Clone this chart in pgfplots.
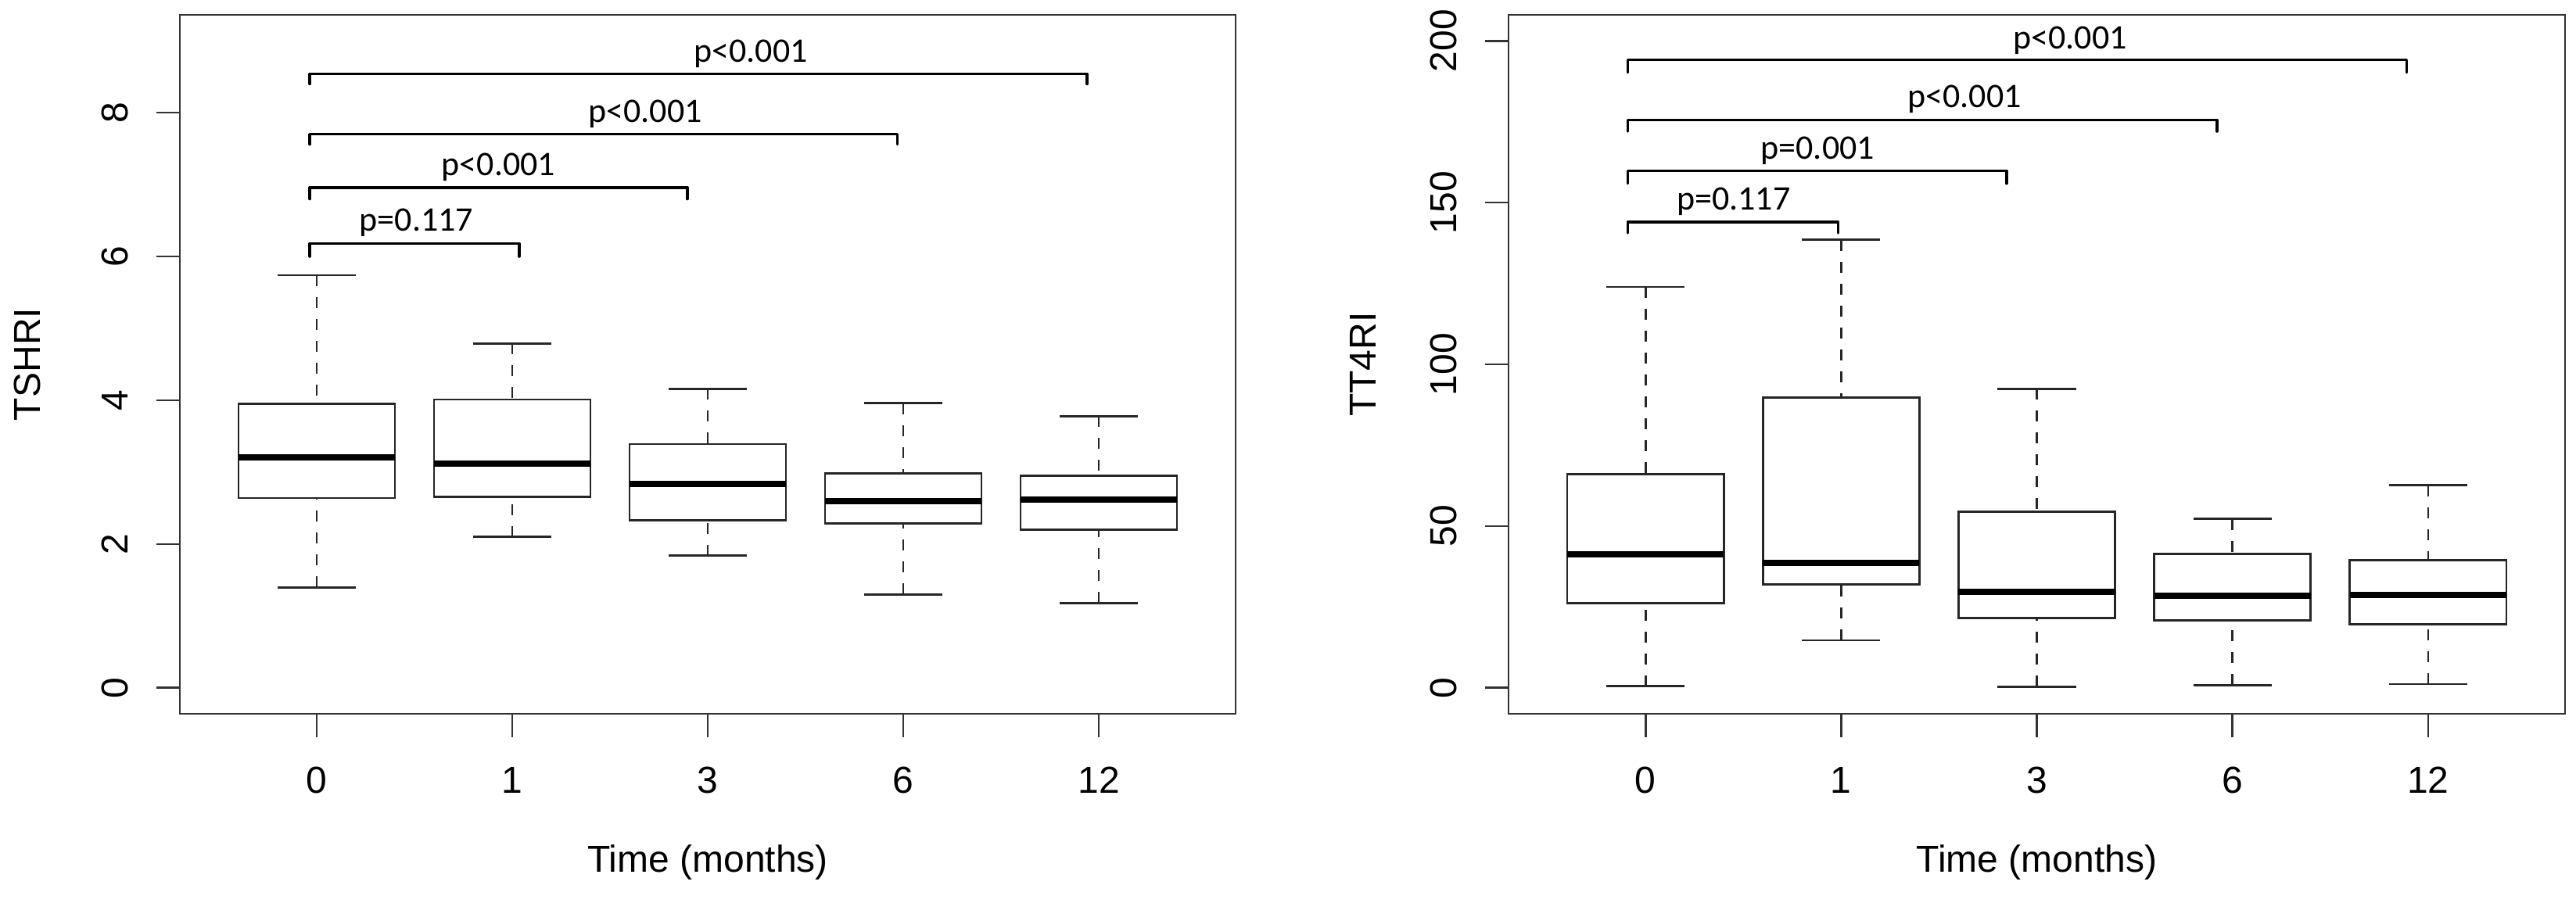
\documentclass[border=0pt]{standalone}
\usepackage{fontspec}
\setmainfont{Liberation Sans}
\newfontfamily\pfont{Carlito}
\usepackage{pgfplots}
\pgfplotsset{compat=1.18}
\usepgfplotslibrary{statistics}

\newcommand\rfont{\fontsize{12}{14}\selectfont}
\newcommand\plab{\pfont\fontsize{11}{13}\selectfont}

\pgfplotsset{
  rpanel/.style={
    anchor=south west, scale only axis,
    height=223.5pt,
    xmin=-0.7, xmax=4.7,
    xtick={0,1,2,3,4}, xticklabels={0,1,3,6,12},
    xtick pos=left, ytick pos=left,
    tick align=outside, major tick length=7.4pt,
    axis line style={black!80, line width=0.7pt},
    tick style={black!80, line width=0.7pt},
    /pgf/number format/assume math mode=true,
    tick label style={font=\rfont},
    yticklabel style={anchor=center, xshift=-13.4pt, rotate=90},
    xticklabel style={anchor=center, yshift=-13.9pt},
    label style={font=\rfont},
    xlabel={Time (months)},
    xlabel style={at={(axis description cs:0.5,0)}, anchor=center, yshift=-47.5pt},
    clip=false,
  },
  rbox/.style={
    black,
    boxplot/draw direction=y,
    boxplot/box extend=0.8,
    boxplot/whisker extend=0.4,
    boxplot/every box/.style={draw=black!85, line width=0.7pt},
    boxplot/every median/.style={draw=black, line width=2pt},
    boxplot/draw/lower whisker/.code={
      \draw[black!85, line width=0.7pt, dash pattern=on 3.5pt off 3.5pt]
        (boxplot cs:\pgfplotsboxplotvalue{lower whisker}) --
        (boxplot cs:\pgfplotsboxplotvalue{lower quartile});
      \draw[black!85, line width=0.7pt]
        (boxplot whisker cs:\pgfplotsboxplotvalue{lower whisker},0) --
        (boxplot whisker cs:\pgfplotsboxplotvalue{lower whisker},1);
    },
    boxplot/draw/upper whisker/.code={
      \draw[black!85, line width=0.7pt, dash pattern=on 3.5pt off 3.5pt]
        (boxplot cs:\pgfplotsboxplotvalue{upper whisker}) --
        (boxplot cs:\pgfplotsboxplotvalue{upper quartile});
      \draw[black!85, line width=0.7pt]
        (boxplot whisker cs:\pgfplotsboxplotvalue{upper whisker},0) --
        (boxplot whisker cs:\pgfplotsboxplotvalue{upper whisker},1);
    },
  },
  bracket/.style={black, line width=0.9pt, line join=round, line cap=round},
}

\begin{document}
\begin{tikzpicture}
\useasboundingbox (0,0) rectangle (823.5pt,288.75pt);

% ---- left: TSHRI
\begin{axis}[rpanel,
  at={(57.5pt,60.5pt)}, width=337.5pt,
  ymin=-0.36, ymax=9.36, ytick={0,2,4,6,8},
  ylabel={TSHRI},
  ylabel style={at={(axis description cs:-0.1444,0.5)}, anchor=center},
]
\addplot[rbox, boxplot prepared={draw position=0, lower whisker=1.40, lower quartile=2.64, median=3.21, upper quartile=3.95, upper whisker=5.74}] coordinates {};
\addplot[rbox, boxplot prepared={draw position=1, lower whisker=2.10, lower quartile=2.66, median=3.12, upper quartile=4.01, upper whisker=4.79}] coordinates {};
\addplot[rbox, boxplot prepared={draw position=2, lower whisker=1.84, lower quartile=2.33, median=2.84, upper quartile=3.39, upper whisker=4.16}] coordinates {};
\addplot[rbox, boxplot prepared={draw position=3, lower whisker=1.30, lower quartile=2.29, median=2.60, upper quartile=2.98, upper whisker=3.96}] coordinates {};
\addplot[rbox, boxplot prepared={draw position=4, lower whisker=1.18, lower quartile=2.20, median=2.62, upper quartile=2.95, upper whisker=3.78}] coordinates {};
% significance brackets
\addplot[bracket] coordinates {(-0.035,6.00) (-0.035,6.18) (1.035,6.18) (1.035,6.00)};
\addplot[bracket] coordinates {(-0.035,6.80) (-0.035,6.96) (1.895,6.96) (1.895,6.80)};
\addplot[bracket] coordinates {(-0.035,7.56) (-0.035,7.70) (2.970,7.70) (2.970,7.56)};
\addplot[bracket] coordinates {(-0.035,8.40) (-0.035,8.54) (3.940,8.54) (3.940,8.40)};
\node[font=\plab] at (axis cs:0.51,6.47) {p=0.117};
\node[font=\plab] at (axis cs:0.93,7.24) {p<0.001};
\node[font=\plab] at (axis cs:1.68,7.98) {p<0.001};
\node[font=\plab] at (axis cs:2.22,8.82) {p<0.001};
\end{axis}

% ---- right: TT4RI
\begin{axis}[rpanel,
  at={(482.25pt,60.5pt)}, width=337.75pt,
  ymin=-8, ymax=208, ytick={0,50,100,150,200},
  ylabel={TT4RI},
  ylabel style={at={(axis description cs:-0.1380,0.5)}, anchor=center},
]
\addplot[rbox, boxplot prepared={draw position=0, lower whisker=0.5, lower quartile=26.1, median=41.2, upper quartile=66.1, upper whisker=123.9}] coordinates {};
\addplot[rbox, boxplot prepared={draw position=1, lower whisker=14.7, lower quartile=32.0, median=38.6, upper quartile=89.8, upper whisker=138.5}] coordinates {};
\addplot[rbox, boxplot prepared={draw position=2, lower whisker=0.4, lower quartile=21.6, median=29.7, upper quartile=54.5, upper whisker=92.4}] coordinates {};
\addplot[rbox, boxplot prepared={draw position=3, lower whisker=0.9, lower quartile=20.9, median=28.5, upper quartile=41.5, upper whisker=52.2}] coordinates {};
\addplot[rbox, boxplot prepared={draw position=4, lower whisker=1.2, lower quartile=19.6, median=28.8, upper quartile=39.5, upper whisker=62.6}] coordinates {};
% significance brackets
\addplot[bracket] coordinates {(-0.09,140.6) (-0.09,144.0) (0.985,144.0) (0.985,140.6)};
\addplot[bracket] coordinates {(-0.09,155.9) (-0.09,159.8) (1.845,159.8) (1.845,155.9)};
\addplot[bracket] coordinates {(-0.09,172.0) (-0.09,175.5) (2.920,175.5) (2.920,172.0)};
\addplot[bracket] coordinates {(-0.09,190.2) (-0.09,194.1) (3.890,194.1) (3.890,190.2)};
\node[font=\plab] at (axis cs:0.45,150.2) {p=0.117};
\node[font=\plab] at (axis cs:0.88,165.9) {p=0.001};
\node[font=\plab] at (axis cs:1.63,181.9) {p<0.001};
\node[font=\plab] at (axis cs:2.17,200.0) {p<0.001};
\end{axis}
\end{tikzpicture}
\end{document}
